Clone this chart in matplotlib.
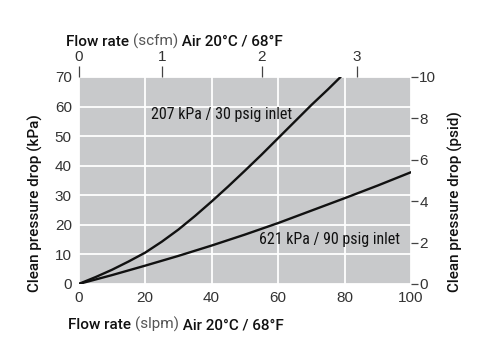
import matplotlib
matplotlib.use("Agg")
import matplotlib.pyplot as plt
import matplotlib.text as mtext
from matplotlib import font_manager

# Data
flow_207 = [0, 5, 10, 15, 20, 25, 30, 35, 40, 45, 50, 55, 60, 65, 70, 75, 78.8]
dp_207 = [0, 2.3, 4.8, 7.6, 10.6, 14.3, 18.4, 23.0, 27.9, 33.0, 38.3, 43.7, 49.3, 54.9, 60.5, 65.8, 70.0]
flow_621 = [0, 10, 20, 30, 40, 50, 60, 70, 80, 90, 100]
dp_621 = [0, 3.0, 6.2, 9.5, 13.0, 16.7, 20.6, 24.8, 29.0, 33.3, 37.8]
scfm_labels = ["0", "1", "2", "3"]
scfm_pos_slpm = [0, 25.2, 55.1, 83.8]
psid_ticks = [0, 2, 4, 6, 8, 10]

installed = {f.name for f in font_manager.fontManager.ttflist}
LABEL_FAMILY = ['Roboto', 'Liberation Sans', 'DejaVu Sans'] if 'Roboto' in installed else ['Liberation Sans', 'DejaVu Sans']
ANN_FAMILY = [f for f in ['Roboto Condensed', 'Liberation Sans Narrow', 'Roboto', 'Liberation Sans'] if f in installed] + ['DejaVu Sans']
plt.rcParams['font.family'] = ['Liberation Sans', 'DejaVu Sans']

fig = plt.figure(figsize=(5.0, 3.64), dpi=100)
ax = fig.add_axes([0.1574, 0.2198, 0.6646, 0.5687])
ax.set_facecolor('#c8c9cb')
ax.set_xlim(0, 100)
ax.set_ylim(0, 70)
for s in ax.spines.values():
    s.set_visible(False)
ax.set_xticks([0, 20, 40, 60, 80, 100])
ax.set_yticks(range(0, 71, 10))
ax.grid(True, color='white', linewidth=1.3)
ax.set_axisbelow(True)
ax.tick_params(axis='both', length=0, labelsize=11, colors='#333333', pad=5)

ax.plot(flow_207, dp_207, color='#111111', lw=1.7, solid_capstyle='round', solid_joinstyle='round')
ax.plot(flow_621, dp_621, color='#111111', lw=1.7, solid_capstyle='round', solid_joinstyle='round')

ax.text(43, 57.2, "207 kPa / 30 psig inlet", ha='center', va='center', fontsize=11.5,
        family=ANN_FAMILY, weight='normal', color='#111111')
ax.text(75.5, 15.0, "621 kPa / 90 psig inlet", ha='center', va='center', fontsize=11.5,
        family=ANN_FAMILY, weight='normal', color='#111111')

# top axis
axt = ax.twiny()
axt.set_xlim(0, 100)
for s in axt.spines.values():
    s.set_visible(False)
axt.set_xticks(scfm_pos_slpm)
axt.set_xticklabels(scfm_labels)
axt.tick_params(axis='x', direction='out', length=8, width=0.9, color='#444444',
                labelsize=11, labelcolor='#333333', pad=1)

# right axis
axr = ax.twinx()
axr.set_ylim(0, 10)
for s in axr.spines.values():
    s.set_visible(False)
axr.set_yticks(psid_ticks)
axr.tick_params(axis='y', direction='out', length=5, width=0.9, color='#444444',
                labelsize=11, labelcolor='#333333', pad=1)

# axis labels
fig.text(0.07, 0.443, "Clean pressure drop (kPa)", rotation=90, ha='center', va='center',
         fontsize=11, family=LABEL_FAMILY, weight='medium', color='#111111')
fig.text(0.91, 0.445, "Clean pressure drop (psid)", rotation=90, ha='center', va='center',
         fontsize=11, family=LABEL_FAMILY, weight='medium', color='#111111')


def label(x, y, before, mid, after):
    t1 = fig.text(x, y, before, fontsize=11, family=LABEL_FAMILY, weight='medium',
                  color='#111111', ha='left', va='baseline')
    t2 = fig.add_artist(mtext.Annotation(mid, xy=(1, 0), xycoords=t1, va='bottom', ha='left',
                                         fontsize=11, family=LABEL_FAMILY, weight='normal',
                                         color='#555555'))
    fig.add_artist(mtext.Annotation(after, xy=(1, 0), xycoords=t2, va='bottom', ha='left',
                                    fontsize=11, family=LABEL_FAMILY, weight='medium',
                                    color='#111111'))
    return t1


label(0.132, 1 - 46 / 364, "Flow rate ", "(scfm)", " Air 20°C / 68°F")
label(0.137, 1 - 329 / 364, "Flow rate ", "(slpm)", " Air 20°C / 68°F")

fig.savefig("out.png", dpi=100, facecolor='white')
